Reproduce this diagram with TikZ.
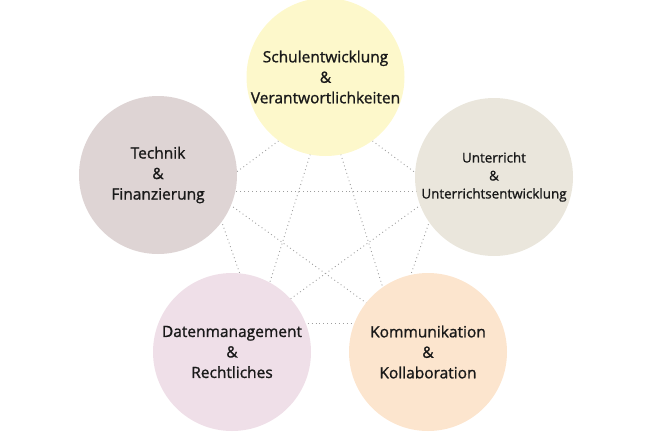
\documentclass[tikz,border=0pt]{standalone}
\usepackage{fontspec}
\setmainfont{Open Sans}
\newfontfamily\topicfont{Open Sans}[FakeBold=1.2]
\usetikzlibrary{backgrounds}
\definecolor{schulcol}{HTML}{FDF8CB}
\definecolor{unterrcol}{HTML}{EAE6DC}
\definecolor{technikcol}{HTML}{DED4D4}
\definecolor{datencol}{HTML}{EFDFE8}
\definecolor{kommcol}{HTML}{FCE5CE}
\tikzset{
topic/.style={circle,minimum size=158pt,inner sep=0pt},
topictext/.style={align=center,text=black!90,inner sep=0pt,
font=\topicfont\fontsize{15.5}{20.5}\selectfont},
smalltext/.style={topictext,font=\topicfont\fontsize{13.4}{18}\selectfont},
link/.style={draw=black!38,line width=0.9pt,dash pattern=on 0.9pt off 3pt}
}

\begin{document}
\begin{tikzpicture}[x=1pt,y=-1pt]
\useasboundingbox (0,0) rectangle (650,434);
% circles
\node[topic,fill=schulcol,label={[topictext]center:Schulentwicklung\\\&\\Verantwortlichkeiten}] (schul) at (325.5,77) {};
\node[topic,fill=unterrcol,label={[smalltext]center:Unterricht\\\&\\Unterrichtsentwicklung}] (unterr) at (494,177) {};
\node[topic,fill=technikcol,label={[topictext]center:Technik\\\&\\Finanzierung}] (technik) at (158,175) {};
\node[topic,fill=datencol,label={[topictext]center:Datenmanagement\\\&\\Rechtliches}] (daten) at (232,352) {};
\node[topic,fill=kommcol,label={[topictext]center:Kommunikation\\\&\\Kollaboration}] (komm) at (428,352) {};
% hidden ends of the dotted links
\coordinate (pS) at (325.5,106);
\coordinate (pU) at (440,191);
\coordinate (pT) at (211,191);
\coordinate (pD) at (257,323);
\coordinate (pK) at (394,323);
\begin{scope}[on background layer]
\foreach \a/\b in {pS/pU,pS/pT,pS/pD,pS/pK,pU/pT,pU/pD,pU/pK,pT/pD,pT/pK,pD/pK}
  \draw[link] (\a) -- (\b);
\end{scope}
\end{tikzpicture}
\end{document}
